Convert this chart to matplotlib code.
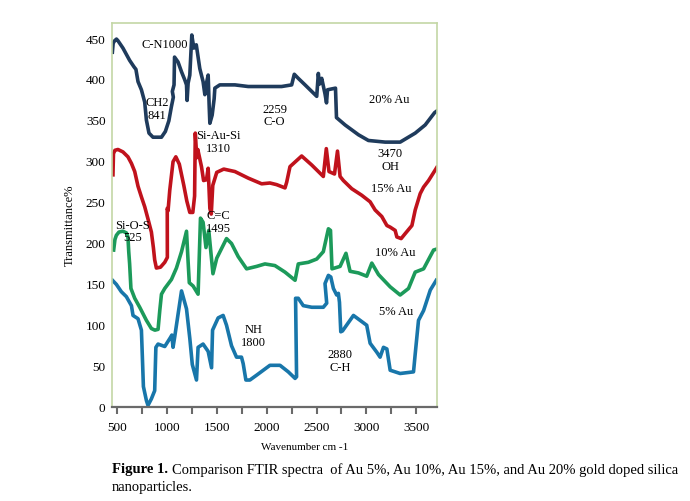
import numpy as np
import matplotlib.pyplot as plt
from matplotlib.ticker import MultipleLocator

plt.rcParams['font.family'] = ['Liberation Serif', 'DejaVu Serif']

# 20% Au (top, navy)
x20 = [454, 462, 477, 495, 510, 560, 627, 671, 690, 711, 745, 778, 795, 821, 861, 946, 985,
       1020, 1045, 1065, 1055, 1072, 1077, 1112, 1147, 1180, 1197, 1203, 1213, 1230, 1250,
       1270, 1295, 1330, 1363, 1381, 1397, 1414, 1424, 1431, 1454, 1474, 1481, 1531, 1682,
       1815, 2150, 2251, 2277, 2317, 2385, 2502, 2518, 2530, 2552, 2585, 2600, 2610, 2690,
       2700, 2786, 2920, 3020, 3188, 3338, 3489, 3589, 3683, 3705]
y20 = [434, 445, 448, 450, 448, 439, 424, 416, 413, 398, 388, 373, 351, 335, 330, 330, 337,
       350, 367, 379, 386, 394, 428, 422, 410, 400, 394, 375, 396, 406, 455,
       439, 443, 414, 398, 382, 396, 406, 369, 347, 357, 377, 390, 394, 394,
       392, 392, 394, 407, 402, 394, 380, 408, 395, 402, 383, 372, 388, 390,
       354, 345, 333, 326, 324, 324, 335, 345, 360, 362]

# 15% Au (red)
x15 = [460, 465, 480, 510, 560, 610, 645, 678, 711, 745, 778, 811, 845, 865, 878, 895, 936,
       979, 1005, 1004, 1012, 1029, 1062, 1090, 1125, 1170, 1200, 1230, 1260, 1278, 1285,
       1300, 1310, 1347, 1368, 1397, 1414, 1431, 1445, 1460, 1500, 1570, 1682, 1815, 1950,
       2033, 2100, 2184, 2201, 2234, 2351, 2452, 2568, 2598, 2625, 2680, 2710, 2736, 2769,
       2853, 2953, 3037, 3087, 3154, 3205, 3238, 3288, 3305, 3348, 3388, 3456, 3489, 3539,
       3573, 3623, 3690, 3705]
y15 = [284, 310, 314, 315, 312, 306, 298, 288, 270, 257, 245, 230, 214, 195, 180, 170, 171,
       177, 183, 243, 240, 265, 300, 306, 297, 271, 252, 238, 238, 258, 335,
       305, 315, 294, 277, 278, 292, 243, 236, 271, 287, 291, 288, 280, 273,
       274, 272, 268, 275, 294, 307, 296, 282, 316, 288, 285, 313, 282, 277,
       267, 259, 251, 241, 233, 222, 220, 216, 208, 206, 212, 222, 241, 261,
       269, 277, 290, 293]

# 10% Au (green)
x10 = [467, 480, 494, 520, 560, 594, 610, 618, 627, 640, 678, 728, 795, 845, 880, 912, 929,
       946, 979, 1046, 1096, 1147, 1197, 1212, 1225, 1263, 1313, 1337, 1363, 1392, 1420,
       1462, 1500, 1598, 1648, 1715, 1799, 1900, 1983, 2083, 2184, 2285, 2317, 2418, 2502,
       2568, 2619, 2640, 2655, 2736, 2795, 2836, 2920, 3003, 3054, 3121, 3238, 3338, 3422,
       3489, 3573, 3673, 3700]
y10 = [192, 205, 210, 214, 215, 213, 208, 190, 175, 145, 133, 122, 106, 96, 94, 95, 118,
       138, 145, 156, 170, 190, 215, 180, 152, 148, 138, 231, 226, 195, 216,
       163, 182, 206, 200, 184, 169, 172, 175, 173, 165, 155, 175, 177, 181,
       190, 218, 216, 169, 172, 188, 166, 164, 160, 176, 162, 147, 137, 145,
       165, 169, 192, 193]

# 5% Au (blue)
x5 = [455, 494, 544, 594, 645, 661, 711, 745, 755, 765, 795, 811, 845, 878, 890, 912, 979,
      1036, 1050, 1062, 1079, 1147, 1197, 1230, 1255, 1297, 1313, 1363, 1414, 1448, 1458,
      1514, 1564, 1598, 1648, 1698, 1748, 1765, 1792, 1832, 1900, 2033, 2134, 2217, 2285,
      2300, 2290, 2317, 2367, 2452, 2568, 2602, 2585, 2619, 2643, 2669, 2702, 2719, 2730,
      2743, 2760, 2870, 3003, 3037, 3104, 3137, 3171, 3205, 3238, 3338, 3472, 3489, 3522,
      3573, 3640, 3700]
y5 = [155, 150, 141, 135, 124, 112, 108, 94, 60, 25, 8, 2, 10, 20, 73, 77, 74,
      85, 88, 73, 86, 142, 120, 84, 52, 33, 73, 77, 68, 48, 94,
      109, 112, 100, 75, 61, 61, 53, 33, 33, 39, 51, 51, 43, 35,
      37, 133, 133, 124, 122, 122, 127, 151, 161, 159, 145, 137, 139, 128,
      92, 93, 112, 100, 78, 67, 61, 73, 71, 45, 41, 43, 65, 106,
      118, 143, 155]

# peak labels: (text, x, y)
labels = [
    ('C-N1000', 979, 443),
    ('CH2\n841', 904, 364),
    ('2259\nC-O', 2080, 356),
    ('20% Au', 3231, 376),
    ('Si-Au-Si\n1310', 1518, 323),
    ('3470\nOH', 3238, 302),
    ('15% Au', 3248, 267),
    ('C=C\n1495', 1518, 226),
    ('Si-O-S\n525', 652, 214),
    ('10% Au', 3288, 188),
    ('5% Au', 3295, 116),
    ('NH\n1800', 1866, 86),
    ('2880\nC-H', 2736, 56),
]

fig = plt.figure(figsize=(6.9, 5.01), dpi=100)
ax = fig.add_axes([0.163, 0.1876, 0.47, 0.767])

lw = 2.6
ax.plot(x20, y20, color='#1f3b5c', lw=lw, solid_joinstyle='round')
ax.plot(x15, y15, color='#c0121c', lw=lw, solid_joinstyle='round')
ax.plot(x10, y10, color='#1c9a5a', lw=lw, solid_joinstyle='round')
ax.plot(x5, y5, color='#1876aa', lw=lw, solid_joinstyle='round')

for txt, tx, ty in labels:
    ax.text(tx, ty, txt, ha='center', va='center', fontsize=9, linespacing=1.1)

ax.set_xlim(455, 3705)
ax.set_ylim(0, 470)
ax.set_yticks(np.arange(0, 451, 50))
ax.xaxis.set_minor_locator(MultipleLocator(250))
ax.set_xticks(np.arange(500, 3501, 500))

frame = '#c4d7a6'
for side in ['left', 'top', 'right']:
    ax.spines[side].set_color(frame)
    ax.spines[side].set_linewidth(1.2)
ax.spines['bottom'].set_color('#6a6a6a')
ax.spines['bottom'].set_linewidth(1.6)

ax.tick_params(axis='y', length=0, pad=5, labelsize=9.5)
ax.tick_params(axis='x', which='both', direction='out', length=5, width=1.5,
               color='#6a6a6a', pad=6, labelsize=9.5)

fig.text(70 / 690, 1 - 225 / 501, 'Transmittance%', rotation=90, ha='center', va='center',
         fontsize=9)
fig.text(305 / 690, 1 - 447 / 501, 'Wavenumber cm -1', ha='center', va='center', fontsize=8)

# caption
cap_y = 1 - 470 / 501
t = fig.text(112 / 690, cap_y, 'Figure 1.', weight='bold', ha='left', va='center', fontsize=10.5)
r = fig.canvas.get_renderer()
bb = t.get_window_extent(renderer=r)
fig.text(bb.x1 / 690 + 4 / 690, cap_y,
         'Comparison FTIR spectra  of Au 5%, Au 10%, Au 15%, and Au 20% gold doped silica',
         ha='left', va='center', fontsize=10.5)
fig.text(112 / 690, 1 - 488 / 501, 'nanoparticles.', ha='left', va='center', fontsize=10.5)

fig.savefig('out.png', dpi=100)
